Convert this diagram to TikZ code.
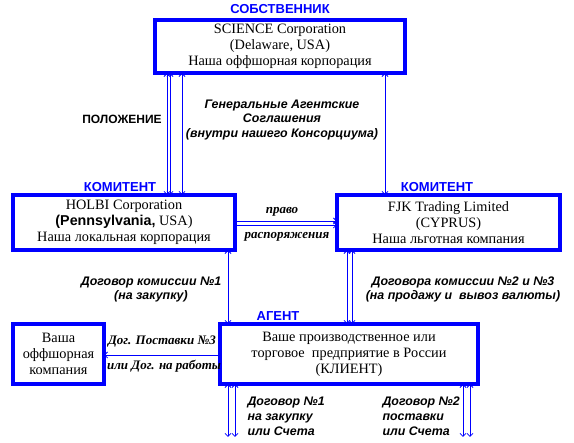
\documentclass[tikz,border=0pt]{standalone}
\usepackage{fontspec}
\setmainfont{Liberation Serif}
\setsansfont{Liberation Sans}
\usetikzlibrary{arrows.meta}
\begin{document}
\begin{tikzpicture}[x=1pt,y=-1pt,
  box/.style={draw=blue, line width=3.5pt, inner sep=0pt, outer sep=0pt, align=center,
    font=\fontsize{14.3}{16}\selectfont},
  head/.style={text=blue, font=\sffamily\bfseries\fontsize{13}{15}\selectfont},
  blk/.style={font=\sffamily\bfseries\fontsize{12}{15}\selectfont},
  lab/.style={align=center, font=\sffamily\bfseries\itshape\fontsize{12.4}{14.8}\selectfont},
  slab/.style={font=\bfseries\itshape\fontsize{13}{15}\selectfont},
  conn/.style={draw=blue, line width=0.8pt},
  both/.style={conn, {Straight Barb[length=3pt,width=6pt]}-{Straight Barb[length=3pt,width=6pt]}},
  one/.style={conn, -{Straight Barb[length=3pt,width=6pt]}}
]
\useasboundingbox (0,0) rectangle (574,443);

% boxes
\node[box, minimum width=250pt, minimum height=53pt] (sci) at (280,46.5)
  {SCIENCE Corporation\\(Delaware, USA)\\Наша оффшорная корпорация};
\node[box, minimum width=222pt, minimum height=55pt] (holbi) at (124,222.5)
  {HOLBI Corporation\\{\sffamily\bfseries(Pennsylvania,} USA)\\Наша локальная корпорация};
\node[box, minimum width=223pt, minimum height=55pt] (fjk) at (448.5,222.5)
  {FJK Trading Limited\\(CYPRUS)\\Наша льготная компания};
\node[box, minimum width=258pt, minimum height=60pt] (agent) at (349,354)
  {Ваше производственное или\\торговое\ \ предприятие в России\\(КЛИЕНТ)};
\node[box, minimum width=91pt, minimum height=60pt] (off) at (58.5,354)
  {Ваша\\оффшорная\\компания};

% headings
\node[head] (h1) at (280,9) {СОБСТВЕННИК};
\node[head] (h2) at (120,187) {КОМИТЕНТ};
\node[head] (h3) at (437,187) {КОМИТЕНТ};
\node[head] (h4) at (278,316) {АГЕНТ};
\node[blk] (pol) at (122,119) {ПОЛОЖЕНИЕ};

% labels
\node[lab] (gen) at (282,120) {Генеральные Агентские\\Соглашения\\(внутри нашего Консорциума)};
\node[slab] (pr) at (282,212) {право};
\node[slab] (ra) at (287,237) {распоряжения};
\node[lab] (d1) at (151,289.5) {Договор комиссии №1\\(на закупку)};
\node[lab] (d2) at (463,289.5) {Договора комиссии №2 и №3\\(на продажу и\ \ вывоз валюты)};
\node[slab] (dp) at (162,342) {Дог. Поставки №3};
\node[slab] (dr) at (164,366) {или Дог. на работы};
\node[lab, align=left, anchor=west] (b1) at (244,416) {Договор №1\\на закупку\\или Счета};
\node[lab, align=left, anchor=west] (b2) at (379,416) {Договор №2\\поставки\\или Счета};

% x / y helper coordinates
\coordinate (x167) at (167,0);
\coordinate (x170) at (170,0);
\coordinate (x182) at (182,0);
\coordinate (x385) at (385,0);
\coordinate (x228) at (228,0);
\coordinate (x235) at (235,0);
\coordinate (x347) at (347,0);
\coordinate (x352) at (352,0);
\coordinate (x463) at (463,0);
\coordinate (x470) at (470,0);
\coordinate (y221) at (0,221);
\coordinate (y225) at (0,225);
\coordinate (y355) at (0,355);
\coordinate (e228) at (228,437);
\coordinate (e235) at (235,437);
\coordinate (e463) at (463,437);
\coordinate (e470) at (470,437);

% connectors
\draw[both] (sci.south -| x167) -- (holbi.north -| x167);
\draw[both] (sci.south -| x170) -- (holbi.north -| x170);
\draw[both] (sci.south -| x182) -- (holbi.north -| x182);
\draw[both] (sci.south -| x385) -- (fjk.north -| x385);
\draw[one] (holbi.east |- y221) -- (fjk.west |- y221);
\draw[one] (holbi.east |- y225) -- (fjk.west |- y225);
\draw[both] (holbi.south -| x228) -- (agent.north -| x228);
\draw[both] (fjk.south -| x347) -- (agent.north -| x347);
\draw[both] (fjk.south -| x352) -- (agent.north -| x352);
\draw[one] (agent.west |- y355) -- (off.east |- y355);
\draw[both] (agent.south -| x228) -- (e228);
\draw[both] (agent.south -| x235) -- (e235);
\draw[both] (agent.south -| x463) -- (e463);
\draw[both] (agent.south -| x470) -- (e470);
\end{tikzpicture}
\end{document}
